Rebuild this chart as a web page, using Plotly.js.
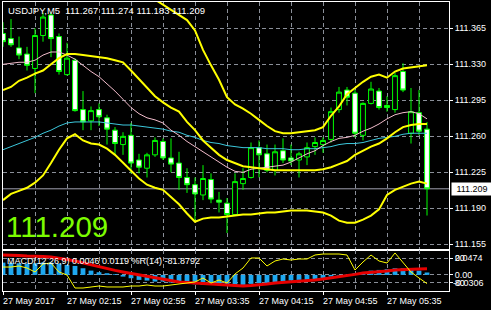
<!DOCTYPE html>
<html><head><meta charset="utf-8">
<script src="https://cdn.plot.ly/plotly-3.0.1.min.js"></script>
<style>html,body{margin:0;padding:0;background:#000;}#chart{width:491px;height:310px;}</style>
</head><body><div id="chart"></div>
<script>
const times = ["01:35","01:40","01:45","01:50","01:55","02:00","02:05","02:10","02:15","02:20","02:25","02:30","02:35","02:40","02:45","02:50","02:55","03:00","03:05","03:10","03:15","03:20","03:25","03:30","03:35","03:40","03:45","03:50","03:55","04:00","04:05","04:10","04:15","04:20","04:25","04:30","04:35","04:40","04:45","04:50","04:55","05:00","05:05","05:10","05:15","05:20","05:25","05:30","05:35","05:40","05:45","05:50","05:55","06:00"];
const open  = [111.360,111.355,111.346,111.340,111.326,111.358,111.378,111.357,111.320,111.334,111.286,111.275,111.286,111.278,111.266,111.252,111.261,111.237,111.229,111.242,111.255,111.239,111.234,111.220,111.213,111.203,111.218,111.198,111.195,111.184,111.214,111.220,111.249,111.243,111.227,111.246,111.239,111.237,111.240,111.250,111.252,111.257,111.286,111.305,111.302,111.261,111.292,111.304,111.290,111.286,111.323,111.263,111.283,111.267];
const high  = [111.371,111.374,111.357,111.347,111.365,111.380,111.380,111.360,111.351,111.336,111.304,111.289,111.292,111.281,111.269,111.264,111.273,111.243,111.244,111.259,111.258,111.258,111.245,111.229,111.220,111.232,111.224,111.206,111.200,111.224,111.229,111.254,111.256,111.252,111.252,111.258,111.252,111.245,111.254,111.259,111.259,111.288,111.308,111.308,111.305,111.293,111.313,111.307,111.299,111.322,111.331,111.307,111.305,111.274];
const low   = [111.347,111.347,111.335,111.324,111.302,111.352,111.337,111.320,111.319,111.284,111.266,111.266,111.270,111.252,111.242,111.242,111.224,111.224,111.220,111.240,111.237,111.225,111.208,111.205,111.177,111.198,111.195,111.186,111.166,111.183,111.208,111.219,111.220,111.225,111.222,111.234,111.232,111.220,111.232,111.242,111.244,111.254,111.283,111.290,111.259,111.256,111.291,111.286,111.284,111.283,111.303,111.253,111.261,111.183];
const close = [111.352,111.349,111.339,111.329,111.358,111.376,111.355,111.323,111.336,111.285,111.274,111.285,111.279,111.267,111.253,111.260,111.234,111.230,111.242,111.256,111.239,111.233,111.220,111.213,111.204,111.219,111.199,111.196,111.184,111.216,111.219,111.249,111.242,111.227,111.245,111.237,111.236,111.243,111.249,111.254,111.256,111.284,111.303,111.298,111.263,111.292,111.306,111.288,111.288,111.319,111.305,111.284,111.265,111.209];

const bbUpper  = [111.412,111.412,111.421,111.424,111.427,111.427,111.427,111.426,111.422,111.418,111.422,111.423,111.423,111.425,111.427,111.430,111.422,111.412,111.401,111.393,111.388,111.383,111.378,111.373,111.363,111.344,111.329,111.315,111.298,111.291,111.287,111.282,111.276,111.270,111.265,111.263,111.263,111.264,111.265,111.266,111.269,111.280,111.289,111.301,111.307,111.313,111.318,111.320,111.317,111.323,111.326,111.327,111.328,111.329];
const bbMiddle = [111.305,111.308,111.314,111.317,111.321,111.324,111.330,111.336,111.340,111.340,111.339,111.338,111.337,111.336,111.334,111.332,111.324,111.316,111.307,111.299,111.293,111.288,111.284,111.274,111.266,111.256,111.249,111.242,111.237,111.234,111.231,111.230,111.229,111.228,111.227,111.227,111.227,111.227,111.227,111.227,111.228,111.230,111.233,111.236,111.242,111.246,111.250,111.253,111.258,111.264,111.269,111.271,111.272,111.272];
const bbLower  = [111.198,111.204,111.207,111.210,111.215,111.222,111.234,111.247,111.258,111.262,111.256,111.253,111.252,111.248,111.242,111.234,111.227,111.219,111.213,111.210,111.208,111.201,111.194,111.185,111.177,111.180,111.181,111.181,111.182,111.183,111.184,111.184,111.185,111.186,111.186,111.187,111.188,111.188,111.188,111.187,111.186,111.183,111.178,111.176,111.176,111.179,111.183,111.189,111.203,111.208,111.211,111.214,111.216,111.214];
const maPink   = [111.330,111.331,111.332,111.332,111.334,111.339,111.342,111.342,111.339,111.335,111.329,111.323,111.318,111.311,111.304,111.296,111.288,111.282,111.278,111.276,111.273,111.266,111.261,111.255,111.250,111.245,111.240,111.235,111.230,111.226,111.225,111.228,111.229,111.230,111.231,111.232,111.235,111.239,111.243,111.246,111.251,111.255,111.258,111.259,111.261,111.265,111.268,111.272,111.277,111.281,111.283,111.284,111.282,111.277];
const maCyan   = [111.247,111.250,111.253,111.256,111.259,111.263,111.266,111.270,111.273,111.274,111.274,111.274,111.274,111.273,111.272,111.271,111.271,111.270,111.269,111.268,111.267,111.265,111.264,111.261,111.259,111.256,111.254,111.253,111.251,111.250,111.249,111.249,111.249,111.248,111.248,111.248,111.247,111.247,111.248,111.248,111.249,111.250,111.252,111.253,111.253,111.254,111.256,111.258,111.259,111.260,111.262,111.263,111.263,111.263];

const macdHist   = [0.0234,0.0228,0.0222,0.0215,0.0222,0.0235,0.0235,0.0215,0.0190,0.0171,0.0127,0.0082,0.0051,0.0032,0.0013,-0.0032,-0.0063,-0.0095,-0.0108,-0.0127,-0.0127,-0.0146,-0.0146,-0.0159,-0.0178,-0.0190,-0.0190,-0.0197,-0.0203,-0.0203,-0.0190,-0.0171,-0.0159,-0.0159,-0.0146,-0.0127,-0.0108,-0.0095,-0.0095,-0.0082,-0.0063,-0.0032,-0.0013,0.0006,0.0032,0.0044,0.0082,0.0095,0.0108,0.0127,0.0127,0.0108,0.0082,0.0046];
const macdSignal = [0.0380,0.0380,0.0371,0.0361,0.0361,0.0352,0.0342,0.0323,0.0295,0.0266,0.0228,0.0190,0.0152,0.0114,0.0086,0.0057,0.0029,0.0000,-0.0029,-0.0057,-0.0076,-0.0105,-0.0133,-0.0143,-0.0152,-0.0162,-0.0171,-0.0181,-0.0190,-0.0200,-0.0209,-0.0200,-0.0190,-0.0171,-0.0152,-0.0143,-0.0133,-0.0124,-0.0114,-0.0095,-0.0076,-0.0057,-0.0038,-0.0019,0.0010,0.0038,0.0048,0.0067,0.0076,0.0095,0.0105,0.0114,0.0114,0.0119];
const willR      = [-41.5,-41.5,-39.0,-43.9,-53.7,-34.1,-31.7,-53.7,-61.0,-92.7,-92.7,-90.2,-87.8,-90.2,-90.2,-90.2,-87.8,-87.8,-85.4,-87.8,-87.8,-85.4,-82.9,-80.5,-78.0,-68.3,-80.5,-73.2,-80.5,-58.5,-43.9,-19.5,-19.5,-39.0,-26.8,-22.0,-24.4,-22.0,-22.0,-12.2,-9.8,-9.8,-9.8,-12.2,-48.8,-29.3,-12.2,-26.8,-31.7,-7.3,-29.3,-53.7,-68.3,-81.8792];

const priceTicks = [111.155,111.190,111.225,111.260,111.295,111.330,111.365];
const timeTickAt = ["01:35","02:15","02:55","03:35","04:15","04:55","05:35"];
const timeTickLabels = ["27 May 2017","27 May 02:15","27 May 02:55","27 May 03:35","27 May 04:15","27 May 04:55","27 May 05:35"];
const macdMax = 0.0474, macdMin = -0.0306;
const wrLevels = [-20, -80];
const symbol = "USDJPY,M5";

const idx = times.map((t, i) => i);
const last = times.length - 1;
const GRID = '#8a8f99';
const DASH = '4px,3px';
const F = 'Liberation Sans, Arial, sans-serif';

const traces = [
  {type:'candlestick', x:idx, open:open, high:high, low:low, close:close, xaxis:'x', yaxis:'y',
   increasing:{line:{color:'#00ff00', width:1}, fillcolor:'#000000'},
   decreasing:{line:{color:'#00ff00', width:1}, fillcolor:'#ffffff'},
   whiskerwidth:0, hoverinfo:'skip'},
  {type:'scatter', mode:'lines', x:idx, y:maCyan, line:{color:'#3cc8dc', width:1}, hoverinfo:'skip'},
  {type:'scatter', mode:'lines', x:idx, y:maPink, line:{color:'#f2bccb', width:1}, hoverinfo:'skip'},
  {type:'scatter', mode:'lines', x:idx, y:bbUpper, line:{color:'#ffff00', width:2}, hoverinfo:'skip'},
  {type:'scatter', mode:'lines', x:idx, y:bbMiddle, line:{color:'#ffff00', width:2}, hoverinfo:'skip'},
  {type:'scatter', mode:'lines', x:idx, y:bbLower, line:{color:'#ffff00', width:2}, hoverinfo:'skip'},
  {type:'bar', x:idx, y:macdHist, xaxis:'x2', yaxis:'y2', width:0.6, marker:{color:'#1ea8f0', line:{width:0}}, hoverinfo:'skip'},
  {type:'scatter', mode:'lines', x:idx, y:macdSignal, xaxis:'x2', yaxis:'y2', line:{color:'#e80000', width:3}, hoverinfo:'skip'},
  {type:'scatter', mode:'lines', x:idx, y:willR, xaxis:'x2', yaxis:'y3', line:{color:'#ffff00', width:1}, hoverinfo:'skip'}
];

const splitPaper = (291 - 250) / 289;
const xCommon = {range:[0, 55.75], showline:true, mirror:true, linecolor:'#ffffff', linewidth:1,
  tickmode:'linear', tick0:0, dtick:8, showticklabels:false,
  showgrid:true, gridcolor:GRID, griddash:DASH, gridwidth:1, zeroline:false, fixedrange:true,
  minor:{tickmode:'linear', tick0:0, dtick:4, showgrid:true, gridcolor:GRID, griddash:DASH, gridwidth:1, ticks:''}};

const annotations = [
  {xref:'paper', yref:'paper', x:0, y:1, xanchor:'left', yanchor:'top', xshift:3, yshift:-1, showarrow:false,
   text: symbol + '  ' + [open[last], high[last], low[last], close[last]].map(v => v.toFixed(3)).join(' '),
   font:{family:F, size:9.5, color:'#ffffff'}},
  {xref:'paper', yref:'paper', x:0, y:(291-227)/289, xanchor:'left', yanchor:'middle', xshift:1, showarrow:false,
   text: close[last].toFixed(3), font:{family:F, size:29.5, color:'#7cfc00'}},
  {xref:'paper', yref:'y', x:1, y:close[last], xanchor:'left', yanchor:'middle', xshift:2, showarrow:false,
   text: close[last].toFixed(3), bgcolor:'#ffffff', borderpad:1, width:38, font:{family:F, size:9, color:'#000000'}},
  {xref:'paper', yref:'paper', x:0, y:(291-261)/289, xanchor:'left', yanchor:'middle', xshift:2, showarrow:false,
   text: 'MACD(12,26,9) ' + macdHist[last].toFixed(4) + ' ' + macdSignal[last].toFixed(4) + ' %R(14) ' + willR[last].toFixed(4),
   font:{family:F, size:9, color:'#ffffff'}},
  {xref:'paper', yref:'y3', x:1, y:wrLevels[0], xanchor:'left', yanchor:'middle', xshift:4, showarrow:false,
   text: macdMax.toFixed(4), font:{family:F, size:9, color:'#ffffff'}},
  {xref:'paper', yref:'y3', x:1, y:wrLevels[1], xanchor:'left', yanchor:'middle', xshift:2, showarrow:false,
   text: macdMin.toFixed(4), font:{family:F, size:9, color:'#ffffff'}}
];
timeTickAt.forEach((t, k) => {
  annotations.push({xref:'x2', yref:'paper', x:times.indexOf(t), y:0, xanchor:'left', yanchor:'top', xshift:-2, yshift:-3,
    showarrow:false, text:timeTickLabels[k], font:{family:F, size:9, color:'#ffffff'}});
});

const layout = {
  width:491, height:310, margin:{l:3, r:42, t:2, b:19},
  paper_bgcolor:'#000000', plot_bgcolor:'#000000', showlegend:false,
  boxgap:0.4, boxgroupgap:0, hovermode:false,
  font:{family:F, size:9, color:'#ffffff'},
  xaxis: Object.assign({}, xCommon, {anchor:'y', ticks:'', rangeslider:{visible:false}}),
  xaxis2: Object.assign({}, xCommon, {anchor:'y2', ticks:'outside', ticklen:3, tickcolor:'#ffffff'}),
  yaxis:{domain:[splitPaper, 1], range:[111.1495, 111.3906], side:'right', tickmode:'array', tickvals:priceTicks,
    tickformat:'.3f', ticks:'outside', ticklen:3, tickcolor:'#ffffff', tickfont:{family:F, size:9, color:'#ffffff'},
    showline:true, mirror:true, linecolor:'#ffffff', showgrid:true, gridcolor:GRID, griddash:DASH, zeroline:false, fixedrange:true},
  yaxis2:{domain:[0, splitPaper], range:[macdMin, macdMax], side:'right', tickmode:'array', tickvals:[0], ticktext:['0.00'],
    ticks:'outside', ticklen:3, tickcolor:'#ffffff', tickfont:{family:F, size:9, color:'#ffffff'},
    showline:true, mirror:true, linecolor:'#ffffff', showgrid:true, gridcolor:GRID, griddash:DASH, zeroline:false, fixedrange:true},
  yaxis3:{overlaying:'y2', range:[-100, 0], side:'right', tickmode:'array', tickvals:wrLevels, ticktext:wrLevels.map(v => String(-v)),
    ticks:'outside', ticklen:3, tickcolor:'#ffffff', tickfont:{family:F, size:9, color:'#ffffff'},
    showgrid:true, gridcolor:GRID, griddash:DASH, zeroline:false, fixedrange:true},
  shapes:[{type:'line', xref:'paper', x0:0, x1:1, yref:'y', y0:close[last], y1:close[last], line:{color:'#a0a0b0', width:1}, layer:'below'}],
  annotations: annotations
};

Plotly.newPlot('chart', traces, layout, {staticPlot:true, displayModeBar:false});
</script>
</body></html>
